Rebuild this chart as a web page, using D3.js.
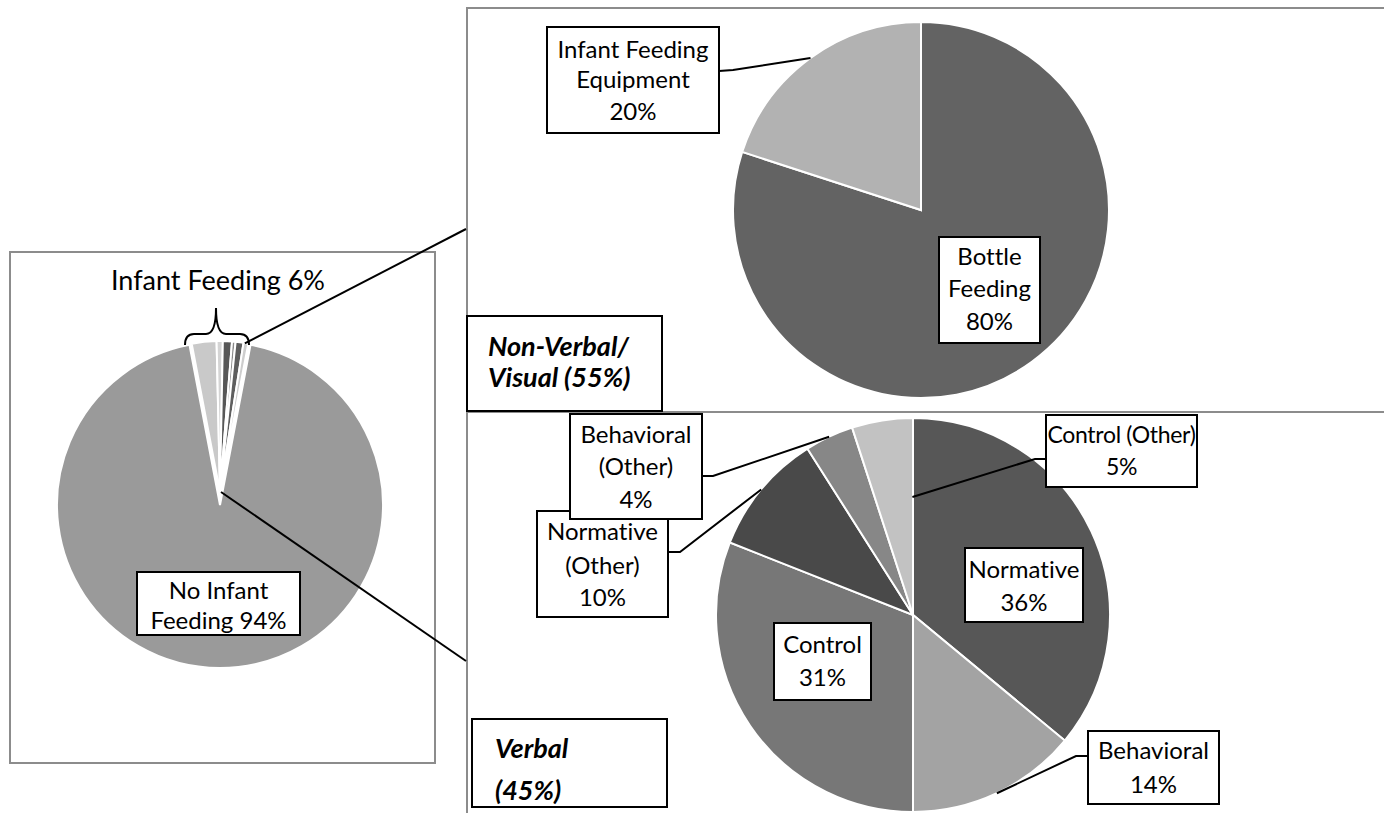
<!DOCTYPE html>
<html>
<head>
<meta charset="utf-8">
<script src="https://cdn.jsdelivr.net/npm/d3@7"></script>
<style>
  html, body { margin: 0; padding: 0; background: #fff; }
  svg { display: block; font-family: Lato, "Open Sans", sans-serif; font-variant-ligatures: none; }
</style>
</head>
<body>
<svg id="chart" width="1384" height="813"></svg>
<script>
// ---- data ----
// Overview: share of items showing infant feeding (small slices broken down by type)
const overviewLabels = ["Bottle Feeding", "Infant Feeding Equipment", "Normative", "Behavioral", "Control", "Other verbal", "No Infant Feeding"];
const overviewValues = [2.64, 0.66, 0.97, 0.38, 0.84, 0.51, 94];
const overviewTitle = "Infant Feeding 6%";

// Non-verbal / visual breakdown
const visualLabels = ["Bottle Feeding", "Infant Feeding Equipment"];
const visualValues = [80, 20];
const visualTitle = ["Non-Verbal/", "Visual (55%)"];

// Verbal breakdown
const verbalLabels = ["Normative", "Behavioral", "Control", "Normative (Other)", "Behavioral (Other)", "Control (Other)"];
const verbalValues = [36, 14, 31, 10, 4, 5];
const verbalTitle = ["Verbal", "(45%)"];

// ---- styles ----
const overviewColors = ["#c9c9c9", "#d4d4d4", "#575757", "#8a8a8a", "#5e5e5e", "#cdcdcd", "#9a9a9a"];
const visualColors = ["#636363", "#b2b2b2"];
const verbalColors = ["#575757", "#a3a3a3", "#777777", "#494949", "#878787", "#c2c2c2"];

const svg = d3.select("#chart");
const TAU = Math.PI * 2;
const LABEL_SIZE = 24;

// Caption above the figure (runs off the top of the page)
svg.append("text").attr("x", 21).attr("y", -6)
  .attr("font-size", 24).attr("fill", "#000").text("Figure");

// ---- panel frames ----
const frame = (x, y, w, h) => svg.append("rect")
  .attr("x", x).attr("y", y).attr("width", w).attr("height", h)
  .attr("fill", "none").attr("stroke", "#8c8c8c").attr("stroke-width", 2);
frame(10, 252, 425, 511);
frame(467, 8, 940, 404);
frame(467, 412, 940, 420);

// ---- helpers ----
function polar(cx, cy, angle, r) {
  return [cx + r * Math.sin(angle), cy - r * Math.cos(angle)];
}

function labelBox(g, box, lines, opts = {}) {
  const grp = g.append("g");
  grp.append("rect")
    .attr("x", box.x).attr("y", box.y).attr("width", box.w).attr("height", box.h)
    .attr("fill", "#fff").attr("stroke", "#000").attr("stroke-width", 2);
  const anchor = opts.left ? "start" : "middle";
  const tx = opts.left ? box.x + opts.left : box.x + box.w / 2;
  let clipId = null;
  if (opts.clip) {
    clipId = "clip" + Math.round(box.x) + "_" + Math.round(box.y);
    svg.append("clipPath").attr("id", clipId).append("rect")
      .attr("x", box.x).attr("y", box.y).attr("width", box.w).attr("height", box.h - 1);
  }
  lines.forEach((t, i) => {
    grp.append("text")
      .attr("x", tx).attr("y", box.y + box.base[i])
      .attr("text-anchor", anchor)
      .attr("font-size", opts.size || LABEL_SIZE)
      .attr("font-weight", opts.bold ? 700 : 400)
      .attr("font-style", opts.italic ? "italic" : "normal")
      .attr("letter-spacing", opts.spacing || null)
      .attr("clip-path", clipId ? `url(#${clipId})` : null)
      .attr("fill", "#000")
      .text(t);
  });
}

function leader(points) {
  svg.append("path")
    .attr("d", d3.line()(points))
    .attr("fill", "none").attr("stroke", "#000").attr("stroke-width", 2);
}

// ---- overview pie ----
const ov = { cx: 220, cy: 505, r: 163, explode: 13, rSmall: 151 };
const ovStart = -0.03 * TAU;
const ovPie = d3.pie().sort(null).startAngle(ovStart).endAngle(ovStart + TAU);
const ovArcs = ovPie(overviewValues);
const ovSmall = ovArcs.slice(0, 6);
const groupMid = (ovSmall[0].startAngle + ovSmall[5].endAngle) / 2;
const [ex, ey] = polar(0, 0, groupMid, ov.explode);

const ovG = svg.append("g").attr("transform", `translate(${ov.cx},${ov.cy})`);
ovG.append("path")
  .attr("d", d3.arc().innerRadius(0).outerRadius(ov.r)(ovArcs[6]))
  .attr("fill", overviewColors[6]).attr("stroke", "#fff").attr("stroke-width", 2);
const ovSmallG = ovG.append("g").attr("transform", `translate(${ex},${ey})`);
ovSmallG.selectAll("path").data(ovSmall).join("path")
  .attr("d", d3.arc().innerRadius(0).outerRadius(ov.rSmall))
  .attr("fill", (d, i) => overviewColors[i])
  .attr("stroke", "#fff").attr("stroke-width", 2).attr("stroke-linejoin", "round");

// curly brace over the infant-feeding slices
const bx0 = 185, bx1 = 249, by0 = 345, bym = 334, byt = 308;
const bxm = (bx0 + bx1) / 2 - 1;
svg.append("path")
  .attr("d", `M${bx0},${by0} Q${bx0},${bym} ${bx0 + 9},${bym} L${bxm - 10},${bym} Q${bxm},${bym} ${bxm},${byt} Q${bxm},${bym} ${bxm + 10},${bym} L${bx1 - 9},${bym} Q${bx1},${bym} ${bx1},${by0}`)
  .attr("fill", "none").attr("stroke", "#000").attr("stroke-width", 2);

svg.append("text").attr("x", 218).attr("y", 290).attr("text-anchor", "middle")
  .attr("font-size", 27).attr("fill", "#000").text(overviewTitle);

labelBox(svg, { x: 137, y: 572, w: 163, h: 63, base: [27, 57] },
  ["No Infant", `Feeding ${overviewValues[6]}%`]);

// connectors from the infant-feeding slices to the detail panels
const tipX = ov.cx + ex, tipY = ov.cy + ey;
const edgePt = polar(tipX, tipY, ovSmall[5].endAngle - 0.01, ov.rSmall);
leader([[edgePt[0] - 2, edgePt[1]], [466, 229]]);
leader([[tipX + 1, tipY], [466, 661]]);

// ---- non-verbal / visual pie ----
const vp = { cx: 921, cy: 210, r: 188 };
const vArcs = d3.pie().sort(null)(visualValues);
const vG = svg.append("g").attr("transform", `translate(${vp.cx},${vp.cy})`);
vG.selectAll("path").data(vArcs).join("path")
  .attr("d", d3.arc().innerRadius(0).outerRadius(vp.r))
  .attr("fill", (d, i) => visualColors[i])
  .attr("stroke", "#fff").attr("stroke-width", 2);

{
  const a = vArcs[1];
  const p = polar(vp.cx, vp.cy, (a.startAngle + a.endAngle) / 2, vp.r);
  leader([[719, 71], [733, 70], p]);
}
labelBox(svg, { x: 547, y: 27, w: 172, h: 106, base: [31, 61, 93] },
  ["Infant Feeding", "Equipment", `${visualValues[1]}%`]);
labelBox(svg, { x: 939, y: 237, w: 101, h: 106, base: [28, 60, 93] },
  ["Bottle", "Feeding", `${visualValues[0]}%`]);

labelBox(svg, { x: 467, y: 316, w: 195, h: 95, base: [40, 71] }, visualTitle,
  { left: 21, bold: true, italic: true, size: 27 });

// ---- verbal pie ----
const wp = { cx: 913, cy: 615, r: 197 };
const wArcs = d3.pie().sort(null)(verbalValues);
const wG = svg.append("g").attr("transform", `translate(${wp.cx},${wp.cy})`);
wG.selectAll("path").data(wArcs).join("path")
  .attr("d", d3.arc().innerRadius(0).outerRadius(wp.r))
  .attr("fill", (d, i) => verbalColors[i])
  .attr("stroke", "#fff").attr("stroke-width", 2);

const midPt = (i, rf = 1) => {
  const a = wArcs[i];
  return polar(wp.cx, wp.cy, (a.startAngle + a.endAngle) / 2, wp.r * rf);
};

// leader lines for the verbal slices
leader([[1088, 756], [1076, 756], midPt(1)]);
leader([[668, 552], [680, 552], midPt(3)]);
leader([[702, 476], [713, 476], midPt(4)]);
leader([[1046, 459], [1035, 459], polar(wp.cx, wp.cy, wArcs[5].endAngle - 0.005, 118)]);

labelBox(svg, { x: 965, y: 548, w: 118, h: 74, base: [30, 63] },
  ["Normative", `${verbalValues[0]}%`]);
labelBox(svg, { x: 1088, y: 731, w: 131, h: 73, base: [28, 62] },
  ["Behavioral", `${verbalValues[1]}%`]);
labelBox(svg, { x: 774, y: 623, w: 97, h: 77, base: [30, 63] },
  ["Control", `${verbalValues[2]}%`]);
labelBox(svg, { x: 537, y: 511, w: 131, h: 106, base: [29, 63, 95] },
  ["Normative", "(Other)", `${verbalValues[3]}%`]);
labelBox(svg, { x: 570, y: 414, w: 132, h: 105, base: [29, 61, 94] },
  ["Behavioral", "(Other)", `${verbalValues[4]}%`]);
labelBox(svg, { x: 1046, y: 415, w: 151, h: 72, base: [28, 60] },
  ["Control (Other)", `${verbalValues[5]}%`], { size: 23, spacing: -0.3 });

labelBox(svg, { x: 472, y: 719, w: 195, h: 88, base: [39, 81] }, verbalTitle,
  { left: 23, bold: true, italic: true, size: 27, clip: true });
</script>
</body>
</html>
